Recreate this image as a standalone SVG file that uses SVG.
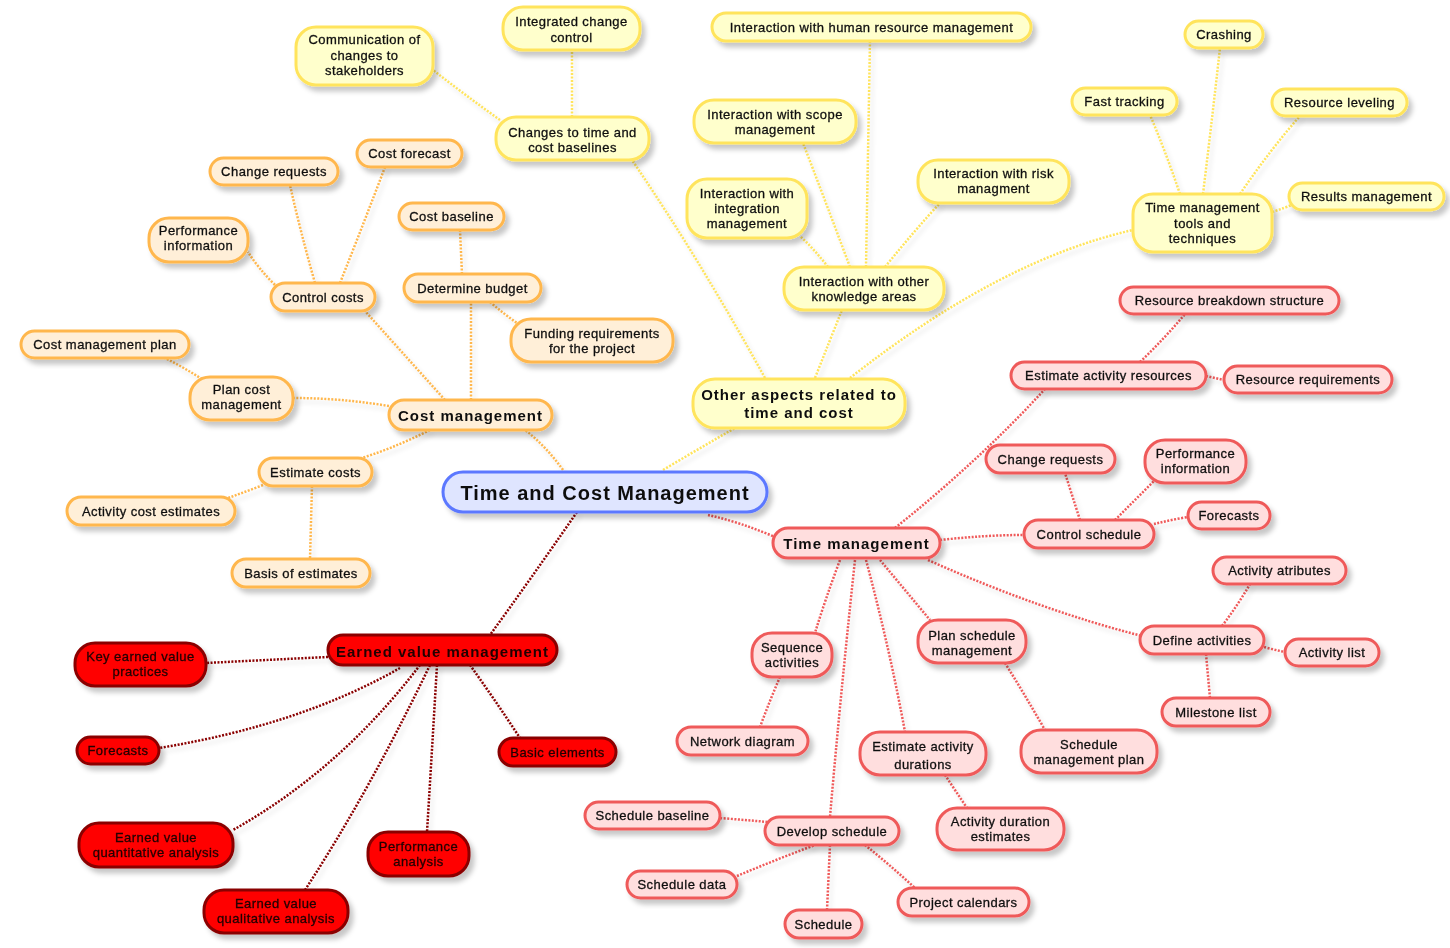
<svg xmlns="http://www.w3.org/2000/svg" width="1450" height="948" viewBox="0 0 1450 948">
<defs>
<filter id="sh" x="-20%" y="-30%" width="140%" height="170%">
<feDropShadow dx="4" dy="5" stdDeviation="2.5" flood-color="#000" flood-opacity="0.22"/>
</filter>
<filter id="lsh" x="-5%" y="-5%" width="110%" height="110%">
<feDropShadow dx="3" dy="4" stdDeviation="2" flood-color="#000" flood-opacity="0.12"/>
</filter>
</defs>
<style>
text{font-family:"Liberation Sans",Arial,sans-serif;font-size:13px;fill:#111;stroke:#111;stroke-width:0.3px;text-anchor:middle;letter-spacing:0.45px}
.n{filter:url(#sh)}
.n rect{stroke-width:3}
.y rect{fill:#ffffcc;stroke:#ffe45c}
.o rect{fill:#ffefd8;stroke:#ffb74d}
.r rect{fill:#ffdede;stroke:#ef5a5a}
.d rect{fill:#ff0000;stroke:#8a0000}
.d text{fill:#200;stroke:#200}
.c rect{fill:#dfe5ff;stroke:#5b78ff}
.b text{font-weight:bold;font-size:15px;letter-spacing:1px;stroke-width:0}
.c text{font-weight:bold;font-size:20px;letter-spacing:1px;stroke-width:0}
#links path{fill:none;stroke-width:2.5;stroke-dasharray:2 1.5}
.ly{stroke:#ffe45c}
.lo{stroke:#ffb74d}
.lr{stroke:#ef5a5a}
.ld{stroke:#8a0000}
</style>
<rect width="1450" height="948" fill="#fff"/>
<g id="links" filter="url(#lsh)">
<path class="lo" d="M563,470 Q545,445 525,430"/>
<path class="ly" d="M663,470 Q700,448 735,428"/>
<path class="lr" d="M708,515 Q740,522 775,537"/>
<path class="ld" d="M577,512 Q530,580 490,635"/>
<path class="lo" d="M445,400 Q400,350 365,311"/>
<path class="lo" d="M471,400 L471,302"/>
<path class="lo" d="M389,406 Q340,398 293,398"/>
<path class="lo" d="M430,430 Q390,450 355,460"/>
<path class="lo" d="M275,285 Q258,268 248,252"/>
<path class="lo" d="M315,283 Q300,230 290,185"/>
<path class="lo" d="M340,283 Q365,220 385,167"/>
<path class="lo" d="M462,274 L460,230"/>
<path class="lo" d="M490,302 Q505,315 520,325"/>
<path class="lo" d="M205,381 Q185,368 165,358"/>
<path class="lo" d="M263,485 Q245,492 228,498"/>
<path class="lo" d="M312,486 L310,559"/>
<path class="ly" d="M765,378 Q700,260 632,160"/>
<path class="ly" d="M815,378 Q830,340 842,310"/>
<path class="ly" d="M850,378 Q1000,260 1133,230"/>
<path class="ly" d="M866,267 L870,41"/>
<path class="ly" d="M850,267 Q825,200 803,143"/>
<path class="ly" d="M828,267 Q815,250 800,236"/>
<path class="ly" d="M885,267 Q915,230 940,203"/>
<path class="ly" d="M500,120 Q465,95 433,70"/>
<path class="ly" d="M572,117 L572,50"/>
<path class="ly" d="M1203,194 Q1212,120 1220,48"/>
<path class="ly" d="M1180,194 Q1165,150 1150,115"/>
<path class="ly" d="M1240,194 Q1270,150 1300,116"/>
<path class="ly" d="M1272,212 Q1285,208 1294,204"/>
<path class="lr" d="M895,528 Q980,460 1045,389"/>
<path class="lr" d="M940,540 Q985,535 1024,535"/>
<path class="lr" d="M928,560 Q1040,610 1142,636"/>
<path class="lr" d="M840,560 Q825,600 815,633"/>
<path class="lr" d="M880,560 Q905,590 930,620"/>
<path class="lr" d="M866,560 Q890,650 905,732"/>
<path class="lr" d="M855,560 Q840,700 830,817"/>
<path class="lr" d="M1140,362 Q1165,338 1185,314"/>
<path class="lr" d="M1206,376 Q1215,378 1224,380"/>
<path class="lr" d="M1080,520 Q1072,495 1065,473"/>
<path class="lr" d="M1115,520 Q1135,500 1155,480"/>
<path class="lr" d="M1154,524 Q1170,520 1188,517"/>
<path class="lr" d="M1222,626 Q1238,605 1250,584"/>
<path class="lr" d="M1264,647 Q1275,650 1285,652"/>
<path class="lr" d="M1206,654 L1210,698"/>
<path class="lr" d="M780,677 Q770,700 760,727"/>
<path class="lr" d="M1005,663 Q1025,695 1045,730"/>
<path class="lr" d="M945,775 Q955,790 967,808"/>
<path class="lr" d="M720,818 Q745,820 768,822"/>
<path class="lr" d="M737,876 Q775,860 815,845"/>
<path class="lr" d="M830,845 L827,910"/>
<path class="lr" d="M865,845 Q890,865 915,888"/>
<path class="ld" d="M328,657 Q265,660 206,663"/>
<path class="ld" d="M400,668 Q300,725 159,748"/>
<path class="ld" d="M470,665 Q495,700 520,738"/>
<path class="ld" d="M420,665 Q340,770 233,830"/>
<path class="ld" d="M437,665 Q432,750 427,832"/>
<path class="ld" d="M430,665 Q370,790 305,890"/>
</g>

<g id="center" class="n c"><rect x="443" y="472" width="324" height="40" rx="20"/><text x="605" y="500">Time and Cost Management</text></g>

<g id="y1" class="n y"><rect x="296" y="27" width="137" height="58" rx="20"/><text x="364.5" y="44">Communication of<tspan x="364.5" y="60">changes to</tspan><tspan x="364.5" y="75">stakeholders</tspan></text></g>
<g id="y2" class="n y"><rect x="503" y="7" width="137" height="43" rx="20"/><text x="571.5" y="26">Integrated change<tspan x="571.5" y="42">control</tspan></text></g>
<g id="y3" class="n y"><rect x="496" y="117" width="153" height="43" rx="20"/><text x="572.5" y="137">Changes to time and<tspan x="572.5" y="152">cost baselines</tspan></text></g>
<g id="y4" class="n y"><rect x="712" y="13" width="319" height="28" rx="14"/><text x="871.5" y="31.5">Interaction with human resource management</text></g>
<g id="y5" class="n y"><rect x="694" y="100" width="162" height="43" rx="20"/><text x="775" y="119">Interaction with scope<tspan x="775" y="134">management</tspan></text></g>
<g id="y6" class="n y"><rect x="687" y="179" width="120" height="59" rx="20"/><text x="747" y="198">Interaction with<tspan x="747" y="213">integration</tspan><tspan x="747" y="228">management</tspan></text></g>
<g id="y7" class="n y"><rect x="918" y="160" width="151" height="43" rx="20"/><text x="993.5" y="178">Interaction with risk<tspan x="993.5" y="193">managment</tspan></text></g>
<g id="y8" class="n y"><rect x="784" y="267" width="160" height="43" rx="20"/><text x="864" y="286">Interaction with other<tspan x="864" y="301">knowledge areas</tspan></text></g>
<g id="y9" class="n y b"><rect x="693" y="379" width="212" height="49" rx="22"/><text x="799" y="400">Other aspects related to<tspan x="799" y="418">time and cost</tspan></text></g>
<g id="y10" class="n y"><rect x="1185" y="21" width="78" height="27" rx="13.5"/><text x="1224" y="39">Crashing</text></g>
<g id="y11" class="n y"><rect x="1072" y="88" width="105" height="27" rx="13.5"/><text x="1124.5" y="106">Fast tracking</text></g>
<g id="y12" class="n y"><rect x="1272" y="89" width="135" height="27" rx="13.5"/><text x="1339.5" y="107">Resource leveling</text></g>
<g id="y13" class="n y"><rect x="1289" y="183" width="155" height="27" rx="13.5"/><text x="1366.5" y="201">Results management</text></g>
<g id="y14" class="n y"><rect x="1133" y="194" width="139" height="58" rx="20"/><text x="1202.5" y="212">Time management<tspan x="1202.5" y="228">tools and</tspan><tspan x="1202.5" y="243">techniques</tspan></text></g>

<g id="o1" class="n o"><rect x="357" y="140" width="105" height="27" rx="13.5"/><text x="409.5" y="158">Cost forecast</text></g>
<g id="o2" class="n o"><rect x="210" y="158" width="128" height="27" rx="13.5"/><text x="274" y="176">Change requests</text></g>
<g id="o3" class="n o"><rect x="399" y="203" width="105" height="27" rx="13.5"/><text x="451.5" y="221">Cost baseline</text></g>
<g id="o4" class="n o"><rect x="149" y="218" width="99" height="44" rx="20"/><text x="198.5" y="235">Performance<tspan x="198.5" y="250">information</tspan></text></g>
<g id="o5" class="n o"><rect x="271" y="283" width="104" height="28" rx="14"/><text x="323" y="301.5">Control costs</text></g>
<g id="o6" class="n o"><rect x="404" y="274" width="137" height="28" rx="14"/><text x="472.5" y="292.5">Determine budget</text></g>
<g id="o7" class="n o"><rect x="511" y="319" width="162" height="43" rx="20"/><text x="592" y="338">Funding requirements<tspan x="592" y="353">for the project</tspan></text></g>
<g id="o8" class="n o"><rect x="21" y="331" width="168" height="27" rx="13.5"/><text x="105" y="349">Cost management plan</text></g>
<g id="o9" class="n o"><rect x="190" y="377" width="103" height="43" rx="20"/><text x="241.5" y="394">Plan cost<tspan x="241.5" y="409">management</tspan></text></g>
<g id="o10" class="n o b"><rect x="389" y="400" width="163" height="30" rx="15"/><text x="470.5" y="421">Cost management</text></g>
<g id="o11" class="n o"><rect x="259" y="458" width="113" height="28" rx="14"/><text x="315.5" y="476.5">Estimate costs</text></g>
<g id="o12" class="n o"><rect x="67" y="497" width="168" height="28" rx="14"/><text x="151" y="515.5">Activity cost estimates</text></g>
<g id="o13" class="n o"><rect x="232" y="559" width="138" height="28" rx="14"/><text x="301" y="577.5">Basis of estimates</text></g>

<g id="r1" class="n r"><rect x="1120" y="287" width="219" height="27" rx="13.5"/><text x="1229.5" y="305">Resource breakdown structure</text></g>
<g id="r2" class="n r"><rect x="1011" y="362" width="195" height="27" rx="13.5"/><text x="1108.5" y="380">Estimate activity resources</text></g>
<g id="r3" class="n r"><rect x="1224" y="366" width="168" height="27" rx="13.5"/><text x="1308" y="384">Resource requirements</text></g>
<g id="r4" class="n r"><rect x="986" y="445" width="129" height="28" rx="14"/><text x="1050.5" y="463.5">Change requests</text></g>
<g id="r5" class="n r"><rect x="1145" y="440" width="101" height="43" rx="20"/><text x="1195.5" y="458">Performance<tspan x="1195.5" y="473">information</tspan></text></g>
<g id="r6" class="n r"><rect x="1188" y="502" width="82" height="27" rx="13.5"/><text x="1229" y="520">Forecasts</text></g>
<g id="r7" class="n r"><rect x="1024" y="520" width="130" height="28" rx="14"/><text x="1089" y="538.5">Control schedule</text></g>
<g id="r8" class="n r b"><rect x="773" y="528" width="167" height="30" rx="15"/><text x="856.5" y="549">Time management</text></g>
<g id="r9" class="n r"><rect x="1213" y="557" width="133" height="27" rx="13.5"/><text x="1279.5" y="575">Activity atributes</text></g>
<g id="r10" class="n r"><rect x="1140" y="626" width="124" height="28" rx="14"/><text x="1202" y="644.5">Define activities</text></g>
<g id="r11" class="n r"><rect x="1285" y="639" width="94" height="27" rx="13.5"/><text x="1332" y="657">Activity list</text></g>
<g id="r12" class="n r"><rect x="1162" y="698" width="108" height="28" rx="14"/><text x="1216" y="716.5">Milestone list</text></g>
<g id="r13" class="n r"><rect x="752" y="633" width="80" height="44" rx="20"/><text x="792" y="652">Sequence<tspan x="792" y="667">activities</tspan></text></g>
<g id="r14" class="n r"><rect x="918" y="620" width="108" height="43" rx="20"/><text x="972" y="640">Plan schedule<tspan x="972" y="655">management</tspan></text></g>
<g id="r15" class="n r"><rect x="677" y="727" width="131" height="28" rx="14"/><text x="742.5" y="745.5">Network diagram</text></g>
<g id="r16" class="n r"><rect x="860" y="732" width="126" height="43" rx="20"/><text x="923" y="751">Estimate activity<tspan x="923" y="769">durations</tspan></text></g>
<g id="r17" class="n r"><rect x="1021" y="730" width="136" height="43" rx="20"/><text x="1089" y="749">Schedule<tspan x="1089" y="764">management plan</tspan></text></g>
<g id="r18" class="n r"><rect x="937" y="808" width="127" height="42" rx="20"/><text x="1000.5" y="826">Activity duration<tspan x="1000.5" y="841">estimates</tspan></text></g>
<g id="r19" class="n r"><rect x="585" y="802" width="135" height="27" rx="13.5"/><text x="652.5" y="820">Schedule baseline</text></g>
<g id="r20" class="n r"><rect x="765" y="817" width="134" height="28" rx="14"/><text x="832" y="835.5">Develop schedule</text></g>
<g id="r21" class="n r"><rect x="627" y="871" width="110" height="27" rx="13.5"/><text x="682" y="889">Schedule data</text></g>
<g id="r22" class="n r"><rect x="785" y="910" width="77" height="28" rx="14"/><text x="823.5" y="928.5">Schedule</text></g>
<g id="r23" class="n r"><rect x="898" y="888" width="131" height="28" rx="14"/><text x="963.5" y="906.5">Project calendars</text></g>

<g id="d1" class="n d b"><rect x="328" y="635" width="229" height="30" rx="15"/><text x="442.5" y="657">Earned value management</text></g>
<g id="d2" class="n d"><rect x="75" y="643" width="131" height="43" rx="20"/><text x="140.5" y="661">Key earned value<tspan x="140.5" y="676">practices</tspan></text></g>
<g id="d3" class="n d"><rect x="77" y="737" width="82" height="27" rx="13.5"/><text x="118" y="755">Forecasts</text></g>
<g id="d4" class="n d"><rect x="499" y="738" width="117" height="28" rx="14"/><text x="557.5" y="756.5">Basic elements</text></g>
<g id="d5" class="n d"><rect x="79" y="823" width="154" height="44" rx="20"/><text x="156" y="842">Earned value<tspan x="156" y="857">quantitative analysis</tspan></text></g>
<g id="d6" class="n d"><rect x="368" y="832" width="101" height="44" rx="20"/><text x="418.5" y="851">Performance<tspan x="418.5" y="866">analysis</tspan></text></g>
<g id="d7" class="n d"><rect x="204" y="890" width="144" height="43" rx="20"/><text x="276" y="908">Earned value<tspan x="276" y="923">qualitative analysis</tspan></text></g>
</svg>
